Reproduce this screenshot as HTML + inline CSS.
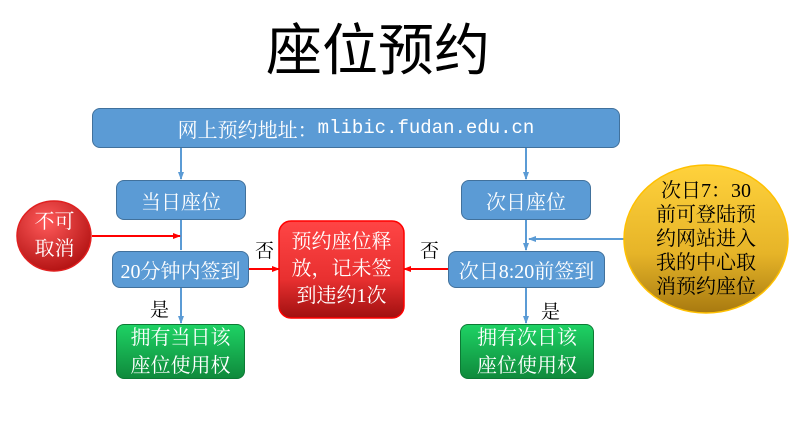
<!DOCTYPE html><html><head><meta charset="utf-8"><style>
body{margin:0;width:799px;height:448px;background:#fff;position:relative;overflow:hidden;font-family:"Liberation Serif","Noto Serif CJK SC",serif}
.b{position:absolute;box-sizing:border-box;display:flex;align-items:center;justify-content:center;text-align:center;color:#fff;border-radius:8px}
.blue{background:#5b9bd5;border:1px solid #41719c;font-size:20px}
.green{background:linear-gradient(#1ed264,#0f8a3c);border:1px solid #0c7a34;font-size:20px;line-height:28px}
.t{position:absolute;font-size:19px;color:#000}
</style></head><body>
<div style="position:absolute;left:0;width:756px;top:6px;text-align:center;font-size:56px;font-family:'Liberation Sans','Noto Sans CJK SC',sans-serif">座位预约</div>
<svg width="799" height="448" style="position:absolute;left:0;top:0">
<defs><marker id="a" markerUnits="userSpaceOnUse" markerWidth="8" markerHeight="8" refX="7" refY="4" orient="auto"><path d="M0,1L8,4L0,7z" fill="#5b9bd5"/></marker>
<marker id="r" markerUnits="userSpaceOnUse" markerWidth="8" markerHeight="8" refX="7" refY="4" orient="auto"><path d="M0,1L8,4L0,7z" fill="#f00"/></marker>
<radialGradient id="rg" cx="40%" cy="30%" r="75%"><stop offset="0" stop-color="#ff5a5a"/><stop offset="1" stop-color="#b01010"/></radialGradient>
<linearGradient id="yg" x1="0" y1="0" x2="0" y2="1"><stop offset="0" stop-color="#ffd23c"/><stop offset="0.6" stop-color="#e6b428"/><stop offset="1" stop-color="#a87a10"/></linearGradient>
<linearGradient id="rb" x1="0" y1="0" x2="0" y2="1"><stop offset="0" stop-color="#ff4545"/><stop offset="0.6" stop-color="#e83030"/><stop offset="1" stop-color="#a01010"/></linearGradient></defs>
<g stroke="#5b9bd5" stroke-width="2" fill="none">
<line x1="181" y1="148" x2="181" y2="179" marker-end="url(#a)"/>
<line x1="181" y1="220" x2="181" y2="250" />
<line x1="181" y1="288" x2="181" y2="323" marker-end="url(#a)"/>
<line x1="526" y1="148" x2="526" y2="179" marker-end="url(#a)"/>
<line x1="526" y1="220" x2="526" y2="250" marker-end="url(#a)"/>
<line x1="526" y1="288" x2="526" y2="323" marker-end="url(#a)"/>
<line x1="625" y1="239" x2="529" y2="239" marker-end="url(#a)"/>
</g>
<g stroke="#f00" stroke-width="2">
<line x1="92" y1="236" x2="180" y2="236" marker-end="url(#r)"/>
<line x1="249" y1="269" x2="279" y2="269" marker-end="url(#r)"/>
<line x1="448" y1="269" x2="404" y2="269" marker-end="url(#r)"/>
</g>
<ellipse cx="54" cy="236" rx="37" ry="35" fill="url(#rg)" stroke="#e02020" stroke-width="1.5"/>
<ellipse cx="706" cy="239" rx="82" ry="74" fill="url(#yg)" stroke="#ffc000" stroke-width="1.5"/>
<rect x="279" y="221" width="125" height="97" rx="12" fill="url(#rb)" stroke="#f00" stroke-width="1.5"/>
</svg>
<div class="b blue" style="left:92px;top:108px;width:528px;height:40px">网上预约地址：<span style="font-family:'Liberation Mono',monospace;font-size:19px">mlibic.fudan.edu.cn</span></div>
<div class="b blue" style="left:116px;top:180px;width:130px;height:40px">当日座位</div>
<div class="b blue" style="left:112px;top:251px;width:137px;height:37px">20分钟内签到</div>
<div class="b green" style="left:116px;top:324px;width:129px;height:55px">拥有当日该<br>座位使用权</div>
<div class="b blue" style="left:461px;top:180px;width:130px;height:40px">次日座位</div>
<div class="b blue" style="left:448px;top:251px;width:157px;height:37px">次日8:20前签到</div>
<div class="b green" style="left:460px;top:324px;width:134px;height:55px">拥有次日该<br>座位使用权</div>
<div class="b" style="left:279px;top:221px;width:125px;height:97px;font-size:20px;line-height:27px">预约座位释<br>放，记未签<br>到违约1次</div>
<div class="b" style="left:17px;top:201px;width:75px;height:70px;font-size:20px;line-height:27px">不可<br>取消</div>
<div class="b" style="left:624px;top:165px;width:164px;height:148px;font-size:20px;line-height:24px;color:#000">次日7：30<br>前可登陆预<br>约网站进入<br>我的中心取<br>消预约座位</div>
<div class="t" style="left:255px;top:236px">否</div>
<div class="t" style="left:420px;top:236px">否</div>
<div class="t" style="left:150px;top:295px">是</div>
<div class="t" style="left:541px;top:297px">是</div>
</body></html>
